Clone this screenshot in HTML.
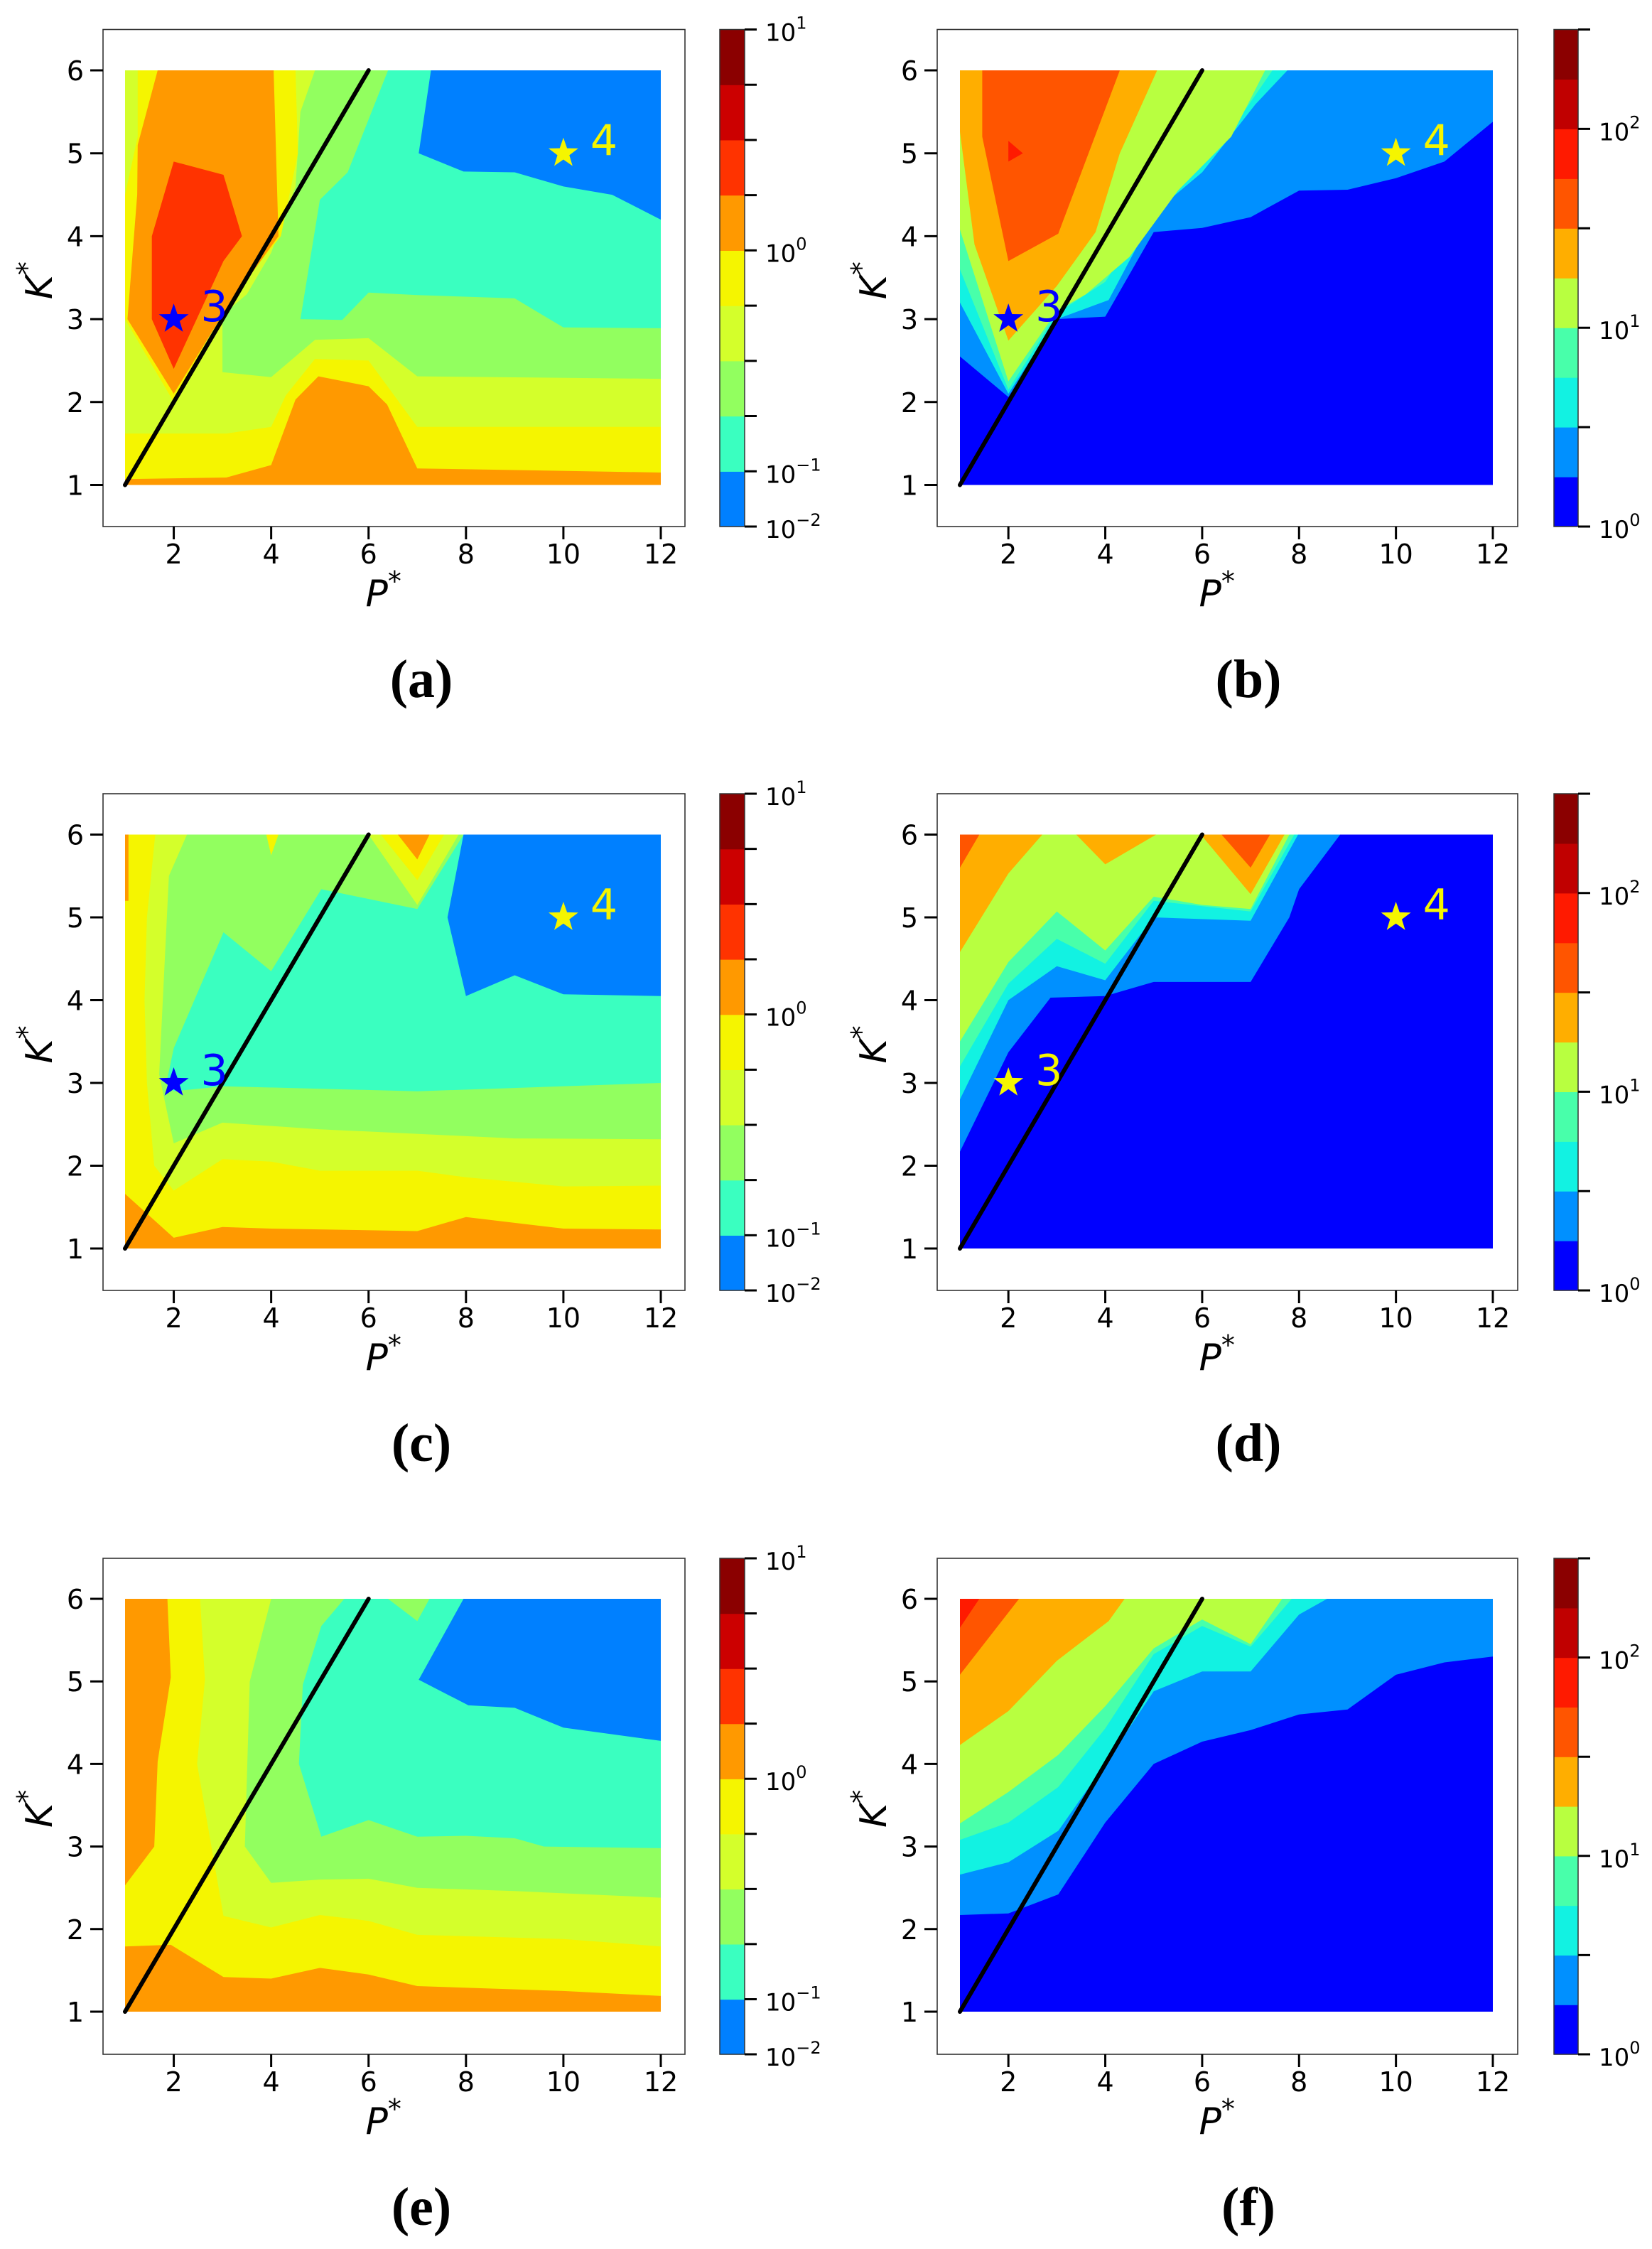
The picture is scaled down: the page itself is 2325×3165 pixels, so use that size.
<!DOCTYPE html>
<html><head><meta charset="utf-8"><style>
html,body{margin:0;padding:0;background:#fff;}
svg{display:block;}
text{font-family:"DejaVu Sans","Liberation Sans",sans-serif;fill:#000;}
.let{font-family:"Liberation Serif","DejaVu Serif",serif;font-weight:bold;}
</style></head><body>
<svg id="s" xmlns="http://www.w3.org/2000/svg" width="2325" height="3165" viewBox="0 0 2325 3165"></svg>
<script>
const rows=[{ft:41.5,fb:741,k6:99,k1:682.5},{ft:1117,fb:1816,k6:1174.5,k1:1757},{ft:2193,fb:2891,k6:2250,k1:2831}];
const cols=[{fl:145,fr:964,p1:176,p12:930,cbl:1013,cbr:1048,lx:593},{fl:1319,fr:2136,p1:1351,p12:2101,cbl:2187,cbr:2221,lx:1757}];
const CA={b:'#0080ff',t:'#3affc0',g:'#92ff5f',yg:'#d4ff2b',y:'#f5f500',o:'#ff9900',r:'#ff3300'};
const CB={b:'#0000ff',lb:'#0090ff',c:'#12f2e2',t:'#48ffaa',yg:'#b8ff40',o:'#ffae00',ro:'#ff5500',r:'#ff1a00'};
const panels=[
{r:0,c:0,bg:CA.yg,L:[
[CA.g,[[4.9,6],[12,6],[12,2.28],[7,2.31],[6,2.77],[4.9,2.75],[4,2.3],[3,2.36],[3,3.05],[3.5,3.3],[4,3.8],[4.5,4.6],[4.6,5.5]]],
[CA.t,[[6.4,6],[12,6],[12,2.89],[10,2.9],[9,3.25],[7,3.29],[6,3.32],[5.46,2.99],[4.6,3.0],[5.0,4.44],[5.57,4.77]]],
[CA.b,[[7.28,6],[12,6],[12,4.2],[11,4.5],[10,4.6],[9,4.77],[7.95,4.78],[7.03,5.0]]],
[CA.y,[[1,1],[12,1],[12,1.7],[7,1.7],[6,2.5],[4.9,2.52],[4.3,2.08],[4,1.7],[3.08,1.62],[1,1.62]]],
[CA.o,[[1,1],[12,1],[12,1.15],[7,1.2],[6.38,1.97],[6,2.19],[4.97,2.31],[4.5,2.03],[4,1.24],[3.08,1.09],[1,1.07]]],
[CA.y,[[1.26,6],[4.5,6],[4.55,5.0],[4.2,4.0],[3.1,3.2],[2.0,2.0],[1,3.0],[1,4.5],[1.26,5.2]]],
[CA.o,[[1.67,6],[4.05,6],[4.15,4.0],[3.6,3.55],[3,3.05],[2,2.1],[1.05,3.0],[1.25,4.5],[1.26,5.1]]],
[CA.r,[[2,4.9],[3.02,4.74],[3.4,4.0],[3.02,3.7],[2.0,2.4],[1.55,3.0],[1.55,4.0]]]
],stars:[[2,3,'#0000ff','3'],[10,5,'#f5f500','4']],let:'(a)'},
{r:0,c:1,bg:CB.b,L:[
[CB.lb,[[1,6],[12,6],[12,5.38],[11,4.9],[10,4.7],[9,4.56],[8,4.55],[7,4.23],[6,4.1],[5,4.05],[4,3.03],[3,3.0],[2,2.06],[1,2.55]]],
[CB.c,[[1,6],[7.76,6],[7.1,5.59],[6,4.77],[5.04,4.3],[4.07,3.23],[3,3.0],[2,2.1],[1,3.2]]],
[CB.t,[[1,6],[7.45,6],[6.8,5.45],[5.8,4.85],[5,4.35],[4,3.45],[3,3.07],[2,2.15],[1,3.6]]],
[CB.yg,[[1,6],[7.3,6],[6.6,5.2],[5.5,4.55],[4.5,3.75],[3.6,3.3],[3,3.1],[2,2.25],[1,4.08]]],
[CB.o,[[1,6],[5.07,6],[4.3,5.0],[3.8,4.05],[3,3.4],[2,2.74],[1.3,3.9],[1,5.26]]],
[CB.ro,[[1.46,6],[4.3,6],[3.03,4.03],[2,3.7],[1.46,5.2]]],
[CB.r,[[2,5.15],[2.3,5.0],[2,4.9]]]
],stars:[[2,3,'#0000ff','3'],[10,5,'#f5f500','4']],let:'(b)'},
{r:1,c:0,bg:CA.yg,L:[
[CA.g,[[2.27,6],[12,6],[12,2.32],[9,2.33],[5,2.44],[3,2.52],[2,2.27],[1.7,3.1],[1.9,5.5]]],
[CA.t,[[2,3.42],[3.02,4.82],[4,4.35],[5.03,5.34],[7,5.1],[7.95,6],[12,6],[12,3.0],[7,2.9],[3,2.96],[2,2.9],[1.85,3.0]]],
[CA.b,[[7.95,6],[12,6],[12,4.05],[10,4.07],[9,4.3],[8,4.05],[7.62,5.0]]],
[CA.yg,[[6.0,6],[7.85,6],[7,5.15]]],[CA.y,[[6.25,6],[7.55,6],[7,5.45]]],[CA.o,[[6.6,6],[7.25,6],[7,5.7]]],
[CA.y,[[3.9,6],[4.15,6],[4,5.75]]],
[CA.y,[[1,6],[1.62,6],[1.45,5],[1.4,4],[1.45,3],[1.6,2.0],[2,1.7],[3,2.08],[4,2.05],[5,1.94],[7,1.94],[8,1.86],[10,1.75],[12,1.76],[12,1],[1,1]]],
[CA.o,[[1,1],[12,1],[12,1.23],[10,1.24],[8,1.38],[7,1.21],[4,1.24],[3,1.26],[2,1.13],[1,1.66]]],
[CA.o,[[1,6],[1.07,6],[1.07,5.2],[1,5.2]]]
],stars:[[2,3,'#0000ff','3'],[10,5,'#f5f500','4']],let:'(c)'},
{r:1,c:1,bg:CB.b,L:[
[CB.lb,[[1,6],[8.85,6],[8,5.34],[7.8,5.0],[7,4.22],[5,4.22],[4,4.05],[2.87,4.03],[2,3.37],[1,2.17]]],
[CB.c,[[1,6],[7.98,6],[7,4.96],[5,5.0],[4,4.24],[3,4.41],[2,4.0],[1,2.8]]],
[CB.t,[[1,6],[7.9,6],[7,5.07],[5,5.2],[4,4.44],[3,4.74],[2,4.2],[1,3.2]]],
[CB.yg,[[1,6],[7.8,6],[7,5.1],[6,5.15],[5,5.25],[4,4.6],[3,5.07],[2,4.46],[1,3.5]]],
[CB.o,[[1,6],[2.7,6],[2,5.53],[1,4.58]]],[CB.o,[[3.4,6],[5.05,6],[4,5.64]]],[CB.o,[[5.97,6],[7.7,6],[7,5.28]]],
[CB.ro,[[1,6],[1.4,6],[1,5.6]]],[CB.ro,[[6.4,6],[7.4,6],[7,5.6]]]
],stars:[[2,3,'#f5f500','3'],[10,5,'#f5f500','4']],let:'(d)'},
{r:2,c:0,bg:CA.yg,L:[
[CA.g,[[4,6],[12,6],[12,2.38],[9,2.46],[7,2.5],[6,2.61],[5,2.6],[4,2.56],[3.46,3.0],[3.56,5.0]]],
[CA.t,[[5.5,6],[12,6],[12,2.98],[9.6,3.0],[9,3.1],[8,3.13],[7,3.12],[6,3.32],[5.03,3.12],[4.57,4.0],[4.65,4.96],[5.03,5.67]]],
[CA.g,[[6.4,6],[7.25,6],[7,5.73]]],
[CA.b,[[7.95,6],[12,6],[12,4.28],[10,4.44],[9,4.68],[8.05,4.71],[7.03,5.02]]],
[CA.y,[[1,6],[2.54,6],[2.64,5.02],[2.48,4.0],[3.02,2.16],[4,2.02],[5,2.17],[6,2.1],[7,1.93],[10,1.88],[12,1.79],[12,1],[1,1]]],
[CA.o,[[1,6],[1.87,6],[1.94,5.05],[1.67,4.03],[1.6,3.0],[1,2.53]]],
[CA.o,[[1,1],[12,1],[12,1.19],[10,1.25],[7,1.31],[6,1.45],[5,1.53],[4,1.4],[3.02,1.42],[1.94,1.81],[1,1.79]]]
],stars:[],let:'(e)'},
{r:2,c:1,bg:CB.b,L:[
[CB.lb,[[1,6],[12,6],[12,5.3],[11,5.23],[10,5.08],[9,4.66],[8,4.6],[7,4.41],[6,4.27],[5,4.0],[4,3.29],[3.03,2.42],[2,2.19],[1,2.17]]],
[CB.c,[[1,6],[8.58,6],[8,5.81],[7,5.12],[6,5.12],[5,4.88],[4,4.0],[3.03,3.19],[2,2.81],[1,2.66]]],
[CB.t,[[1,6],[7.85,6],[7,5.42],[6,5.67],[5,5.33],[4,4.43],[3.03,3.72],[2,3.29],[1,3.08]]],
[CB.yg,[[1,6],[7.65,6],[7,5.45],[6,5.75],[5,5.4],[4,4.7],[3.03,4.11],[2,3.66],[1,3.28]]],
[CB.o,[[1,6],[4.4,6],[4.07,5.73],[3,5.25],[2,4.64],[1,4.23]]],
[CB.ro,[[1,6],[2.22,6],[1,5.08]]],
[CB.r,[[1,6],[1.4,6],[1,5.65]]]
],stars:[],let:'(f)'}
];
let o='';
function star(cx,cy,R,col){let p=[];for(let i=0;i<10;i++){const a=-Math.PI/2+i*Math.PI/5;const r=i%2?R*0.4:R;p.push((cx+r*Math.cos(a)).toFixed(1)+','+(cy+r*Math.sin(a)).toFixed(1));}return `<polygon points="${p.join(' ')}" fill="${col}"/>`;}
function cbLabel(x,y,exp){return `<text x="${x}" y="${y+16}" font-size="34">10<tspan dy="-17" font-size="24">${exp}</tspan></text>`;}
for(const P of panels){
 const R=rows[P.r],C=cols[P.c];
 const X=p=>C.p1+(p-1)*(C.p12-C.p1)/11, Y=k=>R.k1-(k-1)*(R.k1-R.k6)/5;
 const pts=a=>a.map(q=>X(q[0]).toFixed(1)+','+Y(q[1]).toFixed(1)).join(' ');
 o+=`<rect x="${C.fl}" y="${R.ft}" width="${C.fr-C.fl}" height="${R.fb-R.ft}" fill="#fff" stroke="#333" stroke-width="1.6"/>`;
 o+=`<rect x="${X(1)}" y="${Y(6)}" width="${X(12)-X(1)}" height="${Y(1)-Y(6)}" fill="${P.bg}"/>`;
 for(const l of P.L) o+=`<polygon points="${pts(l[1])}" fill="${l[0]}"/>`;
 o+=`<line x1="${X(1)}" y1="${Y(1)}" x2="${X(6)}" y2="${Y(6)}" stroke="#000" stroke-width="6" stroke-linecap="round"/>`;
 for(const s of P.stars){o+=star(X(s[0]),Y(s[1]),22,s[2]);o+=`<text x="${X(s[0])+38}" y="${Y(s[1])+3}" font-size="60" style="fill:${s[2]}">${s[3]}</text>`;}
 for(let k=1;k<=6;k++){const y=Y(k);o+=`<line x1="${C.fl-18}" y1="${y}" x2="${C.fl}" y2="${y}" stroke="#000" stroke-width="3"/><text x="${C.fl-27}" y="${y+14}" font-size="38" text-anchor="end">${k}</text>`;}
 for(let p=2;p<=12;p+=2){const x=X(p);o+=`<line x1="${x}" y1="${R.fb}" x2="${x}" y2="${R.fb+18}" stroke="#000" stroke-width="3"/><text x="${x}" y="${R.fb+52}" font-size="38" text-anchor="middle">${p}</text>`;}
 o+=`<text x="${(C.fl+C.fr)/2-40}" y="${R.fb+112}" font-size="52" font-style="italic">P<tspan dy="-22" font-size="38" font-style="normal">*</tspan></text>`;
 const ky=(R.ft+R.fb)/2, kx=C.fl-72;
 o+=`<text transform="translate(${kx},${ky+30}) rotate(-90)" font-size="52" font-style="italic">K<tspan dy="-22" font-size="38" font-style="normal">*</tspan></text>`;
 o+=`<text class="let" x="${C.lx}" y="${R.fb+240}" font-size="76" text-anchor="middle">${P.let}</text>`;
 const h=R.fb-R.ft;
 if(P.c==0){
  const cs=['#0080ff','#3affc0','#92ff5f','#d4ff2b','#f5f500','#ff9900','#ff3300','#cc0000','#8b0000'];
  const bh=h/9;
  cs.forEach((c,i)=>{o+=`<rect x="${C.cbl}" y="${(R.fb-(i+1)*bh).toFixed(1)}" width="${C.cbr-C.cbl}" height="${(bh+0.6).toFixed(1)}" fill="${c}"/>`;});
  o+=`<rect x="${C.cbl}" y="${R.ft}" width="${C.cbr-C.cbl}" height="${h}" fill="none" stroke="#333" stroke-width="1.5"/>`;
  for(let i=0;i<=9;i++){const y=R.fb-i*bh;o+=`<line x1="${C.cbr}" y1="${y}" x2="${C.cbr+17}" y2="${y}" stroke="#000" stroke-width="3"/>`;}
  o+=cbLabel(C.cbr+29,R.fb,'−2')+cbLabel(C.cbr+29,R.fb-bh,'−1')+cbLabel(C.cbr+29,R.fb-5*bh,'0')+cbLabel(C.cbr+29,R.ft,'1');
 } else {
  const cs=['#0000ff','#0090ff','#12f2e2','#48ffaa','#b8ff40','#ffae00','#ff5500','#ff1a00','#c00000','#8b0000'];
  const bh=h/10;
  cs.forEach((c,i)=>{o+=`<rect x="${C.cbl}" y="${(R.fb-(i+1)*bh).toFixed(1)}" width="${C.cbr-C.cbl}" height="${(bh+0.6).toFixed(1)}" fill="${c}"/>`;});
  o+=`<rect x="${C.cbl}" y="${R.ft}" width="${C.cbr-C.cbl}" height="${h}" fill="none" stroke="#333" stroke-width="1.5"/>`;
  for(let i=0;i<=10;i+=2){const y=R.fb-i*bh;o+=`<line x1="${C.cbr}" y1="${y}" x2="${C.cbr+17}" y2="${y}" stroke="#000" stroke-width="3"/>`;}
  o+=cbLabel(C.cbr+29,R.fb,'0')+cbLabel(C.cbr+29,R.fb-4*bh,'1')+cbLabel(C.cbr+29,R.fb-8*bh,'2');
 }
}
document.getElementById('s').innerHTML=o;
</script>
</body></html>
